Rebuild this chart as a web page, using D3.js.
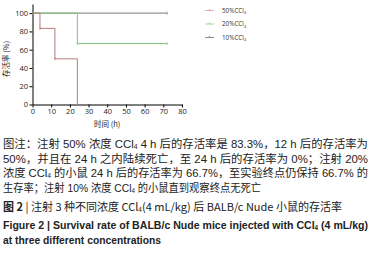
<!DOCTYPE html>
<html>
<head>
<meta charset="utf-8">
<script src="https://cdn.jsdelivr.net/npm/d3@7"></script>
<style>
  body { margin: 0; background: #fff; }
  svg { display: block; }
  .axis path, .axis line { stroke: #000; stroke-width: 1; }
  .axis text { font-family: "Open Sans", "Noto Sans", sans-serif; font-size: 7.5px; fill: #222; }
</style>
</head>
<body>
<div id="chart"></div>
<script>
// Survival data (hours, percent)
var series = ["50%", "20%", "10%"];
var colors = ["#b87c7c", "#7cc47c", "#7a7a7a"];
var legendColors = ["#e89090", "#80d080", "#707070"];
var times50 = [0, 4, 12, 24];
var surv50 = [100, 83.3, 50, 0];
var times20 = [0, 24, 72];
var surv20 = [100, 66.7, 66.7];
var times10 = [0, 72];
var surv10 = [100, 100];
var xTicks = [0, 10, 20, 30, 40, 50, 60, 70, 80];
var yTicks = [0, 20, 40, 60, 80, 100];

var W = 374, H = 256;
var svg = d3.select("#chart").append("svg")
    .attr("width", W)
    .attr("height", H);

var x = d3.scaleLinear().domain([0, 80]).range([32.5, 182]);
var y = d3.scaleLinear().domain([0, 110]).range([104.5, 4]);

// Axes
svg.append("g")
    .attr("class", "axis")
    .attr("transform", "translate(0," + y(0) + ")")
    .call(d3.axisBottom(x).tickValues(xTicks).tickSize(3).tickSizeOuter(0).tickPadding(1.5));

svg.append("g")
    .attr("class", "axis")
    .attr("transform", "translate(" + x(0) + ",0)")
    .call(d3.axisLeft(y).tickValues(yTicks).tickSize(3).tickSizeOuter(0).tickPadding(1.5));

// Axis titles
svg.append("text")
    .attr("transform", "translate(9," + y(50) + ") rotate(-90)")
    .attr("text-anchor", "middle")
    .attr("font-family", "Noto Sans CJK SC, sans-serif")
    .attr("font-size", 7.5)
    .attr("fill", "#222")
    .text("存活率 (%)");

svg.append("text")
    .attr("x", x(40))
    .attr("y", 127)
    .attr("text-anchor", "middle")
    .attr("font-family", "Noto Sans CJK SC, sans-serif")
    .attr("font-size", 7.5)
    .attr("fill", "#222")
    .text("时间 (h)");

// Curves
var curves = [
    d3.zip(times50, surv50),
    d3.zip(times20, surv20),
    d3.zip(times10, surv10)
];

var line = d3.line()
    .x(function(d) { return x(d[0]); })
    .y(function(d) { return y(d[1]); })
    .curve(d3.curveStepAfter);

// draw 10% first so others sit on top
[2, 1, 0].forEach(function(i) {
    svg.append("path")
        .datum(curves[i])
        .attr("fill", "none")
        .attr("stroke", colors[i])
        .attr("stroke-width", 1)
        .attr("d", line);

    // small censor marks
    svg.selectAll(".mark" + i)
        .data(curves[i].slice(1))
        .enter().append("line")
        .attr("x1", function(d) { return x(d[0]); })
        .attr("x2", function(d) { return x(d[0]); })
        .attr("y1", function(d) { return y(d[1]) - 1.5; })
        .attr("y2", function(d) { return y(d[1]) + 1.5; })
        .attr("stroke", colors[i])
        .attr("stroke-width", 0.8);
});

// Legend
var legY = [10.5, 24, 37.5];
series.forEach(function(s, i) {
    var g = svg.append("g").attr("transform", "translate(205," + legY[i] + ")");
    g.append("line").attr("x1", 0).attr("x2", 9).attr("y1", 0).attr("y2", 0)
        .attr("stroke", legendColors[i]).attr("stroke-width", 0.8);
    g.append("line").attr("x1", 4.5).attr("x2", 4.5).attr("y1", -1.5).attr("y2", 0)
        .attr("stroke", legendColors[i]).attr("stroke-width", 0.8);
    var t = g.append("text").attr("x", 17).attr("y", 2.3)
        .attr("font-family", "Open Sans, sans-serif")
        .attr("font-size", 6.3)
        .attr("fill", "#333");
    t.append("tspan").text(s + "CCl");
    t.append("tspan").attr("font-size", 4).attr("dy", 1.2).text("4");
});

// Caption
var capFont = "Liberation Sans, Noto Sans CJK SC, sans-serif";
var caption = [
    [["图注：注射 50% 浓度 CCl", ""], ["4", "sub"], [" 4 h 后的存活率是 83.3%，12 h 后的存活率为", ""]],
    [["50%，并且在 24 h 之内陆续死亡，至 24 h 后的存活率为 0%；注射 20%", ""]],
    [["浓度 CCl", ""], ["4", "sub"], [" 的小鼠 24 h 后的存活率为 66.7%，至实验终点仍保持 66.7% 的", ""]],
    [["生存率；注射 10% 浓度 CCl", ""], ["4", "sub"], [" 的小鼠直到观察终点无死亡", ""]]
];
var capY = [148, 162.5, 177, 191.5];
var capW = [365, 365, 365, 258];

function addLine(parts, yy, w, opts) {
    var t = svg.append("text")
        .attr("x", 3)
        .attr("y", yy)
        .attr("font-family", opts.family)
        .attr("font-size", opts.size)
        .attr("font-weight", opts.weight || "normal")
        .attr("fill", "#222")
        .attr("textLength", w)
        .attr("lengthAdjust", "spacingAndGlyphs");
    parts.forEach(function(p) {
        var ts = t.append("tspan").text(p[0]);
        if (p[1] === "sub") ts.attr("font-size", opts.size * 0.6).attr("dy", 1.2);
        else if (p[1] === "after") ts.attr("dy", -1.2);
        if (p[2]) ts.attr("font-weight", p[2]);
    });
    return t;
}

caption.forEach(function(parts, i) {
    // restore baseline after subscript
    var fixed = parts.map(function(p, j) {
        if (j > 0 && parts[j - 1][1] === "sub") return [p[0], "after"];
        return p;
    });
    addLine(fixed, capY[i], capW[i], { family: capFont, size: 11 });
});

addLine([["图 2", "", "bold"], [" | 注射 3 种不同浓度 CCl", ""], ["4", "sub"], ["(4 mL/kg) 后 BALB/c Nude 小鼠的存活率", "after"]],
    211, 339, { family: "Noto Sans CJK SC, sans-serif", size: 11 });
addLine([["Figure 2  |  Survival rate of BALB/c Nude mice injected with CCl", ""], ["4", "sub"], [" (4 mL/kg)", "after"]],
    229, 365, { family: "Liberation Sans, sans-serif", size: 11, weight: "bold" });
addLine([["at three different concentrations", ""]],
    244, 158, { family: "Liberation Sans, sans-serif", size: 11, weight: "bold" });
</script>
</body>
</html>
